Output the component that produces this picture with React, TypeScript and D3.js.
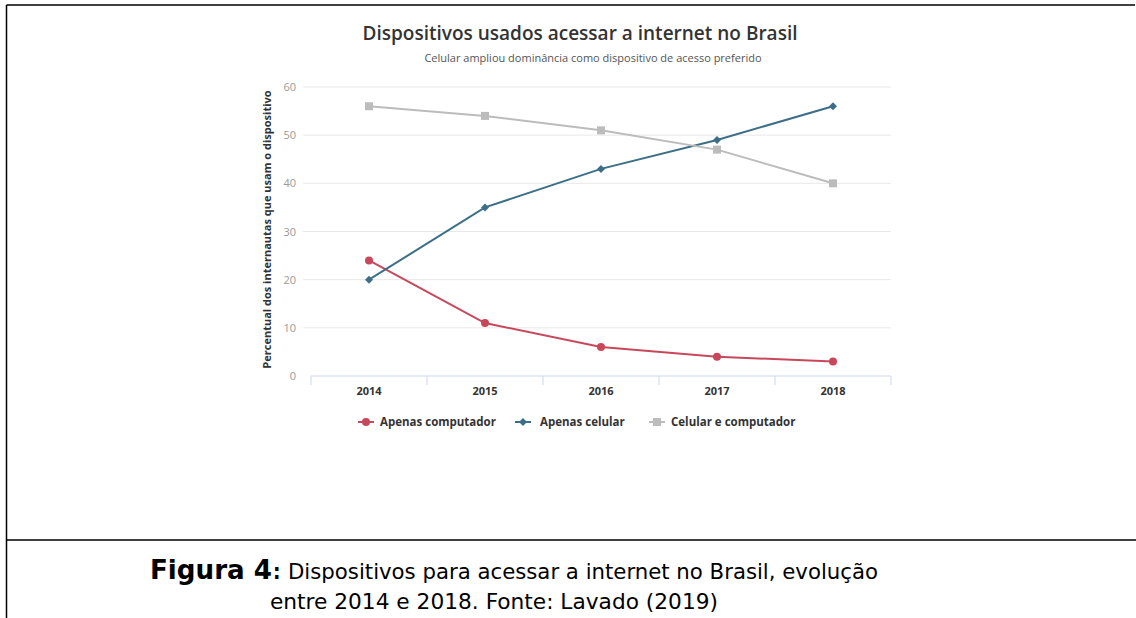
import React from "react";
import * as d3 from "d3";

const years = ["2014", "2015", "2016", "2017", "2018"];
const apenasComputador = [24, 11, 6, 4, 3];
const apenasCelular = [20, 35, 43, 49, 56];
const celularEComputador = [56, 54, 51, 47, 40];
const yTicks = [0, 10, 20, 30, 40, 50, 60];

const seriesList = [
  { name: "Apenas computador", values: apenasComputador, color: "#c8485b", marker: "circle" },
  { name: "Apenas celular", values: apenasCelular, color: "#3d6e88", marker: "diamond" },
  { name: "Celular e computador", values: celularEComputador, color: "#bcbcbc", marker: "square" },
];

const W = 1136;
const H = 618;
const plotLeft = 311;
const plotRight = 891;
const plotTop = 87;
const plotBottom = 376;

const FONT = "'Open Sans', sans-serif";
const CAPTION_FONT = "'Liberation Sans Narrow', 'DejaVu Sans Condensed', sans-serif";

function Marker({ type, x, y, color }: { type: string; x: number; y: number; color: string }) {
  if (type === "circle") return <circle cx={x} cy={y} r={4} fill={color} />;
  if (type === "diamond")
    return <path d={`M${x},${y - 4}L${x + 4},${y}L${x},${y + 4}L${x - 4},${y}Z`} fill={color} />;
  return <rect x={x - 4} y={y - 4} width={8} height={8} fill={color} />;
}

export default function App() {
  const x = d3.scaleBand<string>().domain(years).range([plotLeft, plotRight]);
  const y = d3.scaleLinear().domain([0, 60]).range([plotBottom, plotTop]);
  const cx = (yr: string) => (x(yr) as number) + x.bandwidth() / 2;
  const line = d3
    .line<number>()
    .x((_, i) => cx(years[i]))
    .y((v) => y(v));

  const boundaries = years.map((yr) => x(yr) as number).concat([plotRight]);

  const legendItems = [
    { sx: 358, tx: 380 },
    { sx: 515, tx: 540 },
    { sx: 649, tx: 671 },
  ];

  return (
    <svg
      width={W}
      height={H}
      style={{ position: "absolute", left: 0, top: 0, background: "#fff" }}
      fontFamily={FONT}
    >
      <rect x={0} y={0} width={W} height={H} fill="#fff" />
      {/* frame */}
      <line x1={6.5} y1={5} x2={1135} y2={5} stroke="#000" strokeWidth={1.5} />
      <line x1={6.5} y1={5} x2={6.5} y2={H} stroke="#000" strokeWidth={1.5} />
      <line x1={6.5} y1={540} x2={W} y2={540} stroke="#000" strokeWidth={1.5} />

      {/* titles */}
      <text x={580} y={40} textAnchor="middle" fontSize={19} fontWeight={600} fill="#333"
        textLength={435} lengthAdjust="spacingAndGlyphs">
        Dispositivos usados acessar a internet no Brasil
      </text>
      <text x={593} y={62} textAnchor="middle" fontSize={11} fill="#555">
        Celular ampliou dominância como dispositivo de acesso preferido
      </text>

      {/* grid */}
      {yTicks.map((t) => (
        <g key={t}>
          {t > 0 && (
            <line x1={303} x2={plotRight} y1={y(t)} y2={y(t)} stroke="#e8e8e8" strokeWidth={1} />
          )}
          <text x={296} y={y(t) + 4} textAnchor="end" fontSize={11} fill="#999">
            {t}
          </text>
        </g>
      ))}
      <line x1={plotLeft} x2={plotRight} y1={plotBottom} y2={plotBottom} stroke="#ccd6eb" />
      {boundaries.map((b, i) => (
        <line key={i} x1={b} x2={b} y1={plotBottom} y2={plotBottom + 9} stroke="#ccd6eb" />
      ))}
      {years.map((yr) => (
        <text key={yr} x={cx(yr)} y={395} textAnchor="middle" fontSize={11} fontWeight={700} fill="#333">
          {yr}
        </text>
      ))}
      <text
        transform={`translate(271,${(plotTop + plotBottom) / 2 - 2}) rotate(-90)`}
        textAnchor="middle"
        fontSize={11}
        fontWeight={700}
        fill="#333"
      >
        Percentual dos internautas que usam o dispositivo
      </text>

      {/* series */}
      {seriesList.map((s) => (
        <g key={s.name}>
          <path d={line(s.values) || ""} fill="none" stroke={s.color} strokeWidth={2} />
          {s.values.map((v, i) => (
            <Marker key={i} type={s.marker} x={cx(years[i])} y={y(v)} color={s.color} />
          ))}
        </g>
      ))}

      {/* legend */}
      {seriesList.map((s, i) => (
        <g key={s.name}>
          <line x1={legendItems[i].sx} x2={legendItems[i].sx + 16} y1={422} y2={422} stroke={s.color} strokeWidth={2} />
          <Marker type={s.marker} x={legendItems[i].sx + 8} y={422} color={s.color} />
          <text x={legendItems[i].tx} y={426} fontSize={11.5} fontWeight={700} fill="#333">
            {s.name}
          </text>
        </g>
      ))}

      {/* caption */}
      <text x={150} y={579} fontFamily={CAPTION_FONT} fontSize={27} fontWeight={700} fill="#000"
        textLength={122} lengthAdjust="spacingAndGlyphs">
        Figura 4
      </text>
      <text x={273} y={579} fontFamily={CAPTION_FONT} fontSize={21} fontWeight={700} fill="#000">
        :
      </text>
      <text x={288} y={579} fontFamily={CAPTION_FONT} fontSize={21} fill="#000"
        textLength={590} lengthAdjust="spacingAndGlyphs">
        Dispositivos para acessar a internet no Brasil, evolução
      </text>
      <text x={270} y={609} fontFamily={CAPTION_FONT} fontSize={21} fill="#000"
        textLength={448} lengthAdjust="spacingAndGlyphs">
        entre 2014 e 2018. Fonte: Lavado (2019)
      </text>
    </svg>
  );
}
